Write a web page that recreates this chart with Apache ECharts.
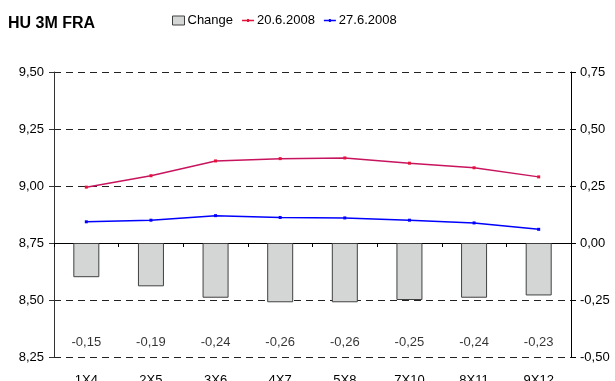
<!DOCTYPE html>
<html>
<head>
<meta charset="utf-8">
<script src="https://cdn.jsdelivr.net/npm/echarts@6/dist/echarts.min.js"></script>
<style>
  html, body { margin: 0; padding: 0; background: #fff; }
  #chart { width: 615px; height: 381px; }
</style>
</head>
<body>
<div id="chart"></div>
<script>
// Hungarian 3M FRA curve: two fixing dates and the change between them
const tenors = ['1X4', '2X5', '3X6', '4X7', '5X8', '7X10', '8X11', '9X12'];
const rates0620 = [8.995, 9.045, 9.11, 9.12, 9.123, 9.10, 9.08, 9.04];
const rates0627 = [8.843, 8.85, 8.87, 8.862, 8.86, 8.85, 8.838, 8.81];
const changes = [-0.15, -0.19, -0.24, -0.26, -0.26, -0.25, -0.24, -0.23];
const leftTicks = { min: 8.25, max: 9.5, step: 0.25 };
const rightTicks = { min: -0.5, max: 0.75, step: 0.25 };
const changeLabelLevel = -0.435;

const fmt = v => v.toFixed(2).replace('.', ',');
const font = 'Liberation Sans, Arial, sans-serif';
// legend glyph for a line series: a short stroke with a small marker
const lineIcon = 'path://M0,3.8 L12,3.8 L12,5.2 L0,5.2 Z M5,3 L7,3 L7,6 L5,6 Z';

const chart = echarts.init(document.getElementById('chart'), null, { renderer: 'canvas' });

chart.setOption({
  animation: false,
  backgroundColor: '#fff',
  textStyle: { fontFamily: font },
  title: {
    text: 'HU 3M FRA',
    left: 8, top: 16, padding: 0,
    textStyle: { fontSize: 16, fontWeight: 'bold', color: '#000', fontFamily: font }
  },
  legend: {
    left: 172, top: 14, padding: 0,
    itemGap: 9,
    itemWidth: 12, itemHeight: 9,
    textStyle: { fontSize: 13, color: '#000', fontFamily: font, padding: [0, 0, 0, -2] },
    data: [
      { name: 'Change', icon: 'rect', itemStyle: { color: '#D4D6D6', borderColor: '#404040', borderWidth: 1 } },
      { name: '20.6.2008', icon: lineIcon },
      { name: '27.6.2008', icon: lineIcon }
    ]
  },
  grid: { left: 54, right: 44, top: 72, bottom: 24, outerBoundsMode: 'none', containLabel: false },
  xAxis: {
    type: 'category',
    data: tenors,
    boundaryGap: true,
    axisLine: { lineStyle: { color: '#000', width: 1 } },
    axisTick: { show: true, length: 4, lineStyle: { color: '#000' } },
    axisLabel: { color: '#000', fontSize: 13, margin: 17, fontFamily: font }
  },
  yAxis: [
    {
      type: 'value',
      min: leftTicks.min, max: leftTicks.max, interval: leftTicks.step,
      axisLine: { show: true, lineStyle: { color: '#333' } },
      axisTick: { show: true, length: 5, lineStyle: { color: '#333' } },
      axisLabel: { color: '#000', fontSize: 13, margin: 10, formatter: fmt, fontFamily: font },
      splitLine: { show: true, lineStyle: { color: '#222', type: [7, 5], width: 1 } }
    },
    {
      type: 'value',
      position: 'right',
      min: rightTicks.min, max: rightTicks.max, interval: rightTicks.step,
      axisLine: { show: true, lineStyle: { color: '#000' } },
      axisTick: { show: true, length: 5, lineStyle: { color: '#000' } },
      axisLabel: { color: '#000', fontSize: 13, margin: 9, formatter: fmt, fontFamily: font },
      splitLine: { show: false }
    }
  ],
  series: [
    {
      name: 'Change',
      type: 'bar',
      yAxisIndex: 1,
      data: changes,
      barWidth: 26,
      itemStyle: { color: '#D4D6D6', borderColor: '#404040', borderWidth: 1 },
      z: 2
    },
    {
      // value labels of the change, set along the bottom of the plot
      name: 'ChangeLabels',
      type: 'scatter',
      yAxisIndex: 1,
      symbolSize: 0,
      silent: true,
      data: changes.map((c, i) => [tenors[i], changeLabelLevel]),
      label: {
        show: true,
        position: 'inside',
        color: '#000',
        fontSize: 13,
        fontFamily: font,
        formatter: p => fmt(changes[p.dataIndex])
      },
      z: 5
    },
    {
      name: '20.6.2008',
      type: 'line',
      yAxisIndex: 0,
      data: rates0620,
      symbol: 'rect',
      symbolSize: 3,
      lineStyle: { color: '#C8145E', width: 1.5 },
      itemStyle: { color: '#E8103A', borderWidth: 0 },
      z: 4
    },
    {
      name: '27.6.2008',
      type: 'line',
      yAxisIndex: 0,
      data: rates0627,
      symbol: 'rect',
      symbolSize: 3,
      lineStyle: { color: '#0000FF', width: 1.5 },
      itemStyle: { color: '#0000FF', borderWidth: 0 },
      z: 4
    }
  ]
});
</script>
</body>
</html>
